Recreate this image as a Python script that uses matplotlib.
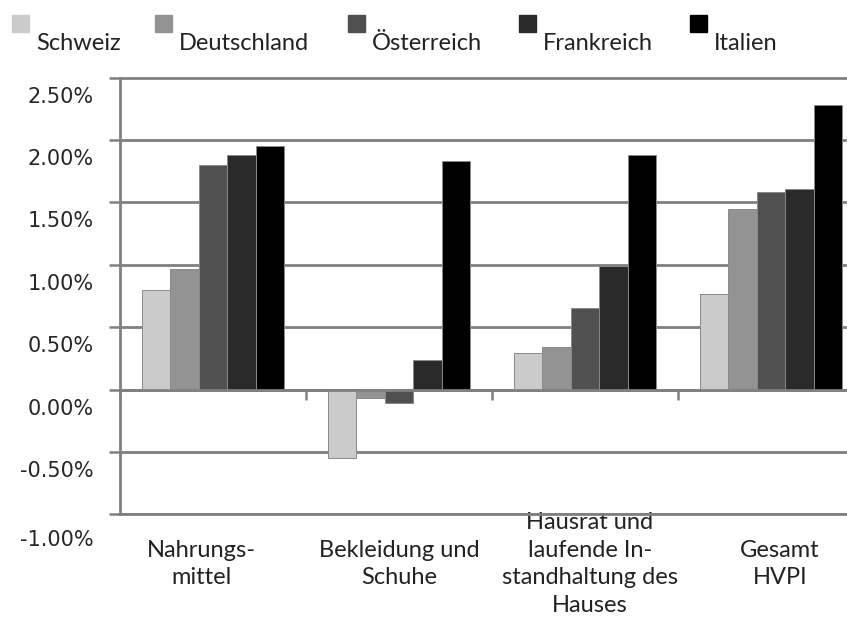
import matplotlib.pyplot as plt
import numpy as np
from matplotlib.patches import Rectangle
from matplotlib.transforms import ScaledTranslation

# Teuerung nach Warengruppe, Veränderung in %
laender = ['Schweiz', 'Deutschland', 'Österreich', 'Frankreich', 'Italien']
kategorien = ['Nahrungs-\nmittel', 'Bekleidung und\nSchuhe',
              'Hausrat und\nlaufende In-\nstandhaltung des\nHauses', 'Gesamt\nHVPI']
schweiz = [0.80, -0.55, 0.29, 0.77]
deutschland = [0.97, -0.07, 0.34, 1.45]
oesterreich = [1.80, -0.11, 0.65, 1.58]
frankreich = [1.88, 0.24, 0.99, 1.61]
italien = [1.95, 1.83, 1.88, 2.28]
werte = [schweiz, deutschland, oesterreich, frankreich, italien]
yticks = [-1.0, -0.5, 0.0, 0.5, 1.0, 1.5, 2.0, 2.5]

farben = ['#cbcbcb', '#939393', '#505050', '#2a2a2a', '#000000']
grau = '#808080'

fig = plt.figure(figsize=(8.47, 6.26), dpi=100)
W, H = 847, 626
# Zeichenfläche ragt rechts etwas über den Rand hinaus
ax = fig.add_axes([120 / W, (H - 515) / H, 744 / W, 438 / H])

x = np.arange(len(kategorien))
bw = 0.153
for i, (land, vals) in enumerate(zip(laender, werte)):
    ax.bar(x + 0.5 + (i - 2) * bw, vals, width=bw, color=farben[i],
           edgecolor='#8a8a8a', linewidth=0.7, zorder=2)

ax.set_xlim(0, len(kategorien))
ax.set_ylim(-1.006, 2.506)
ax.set_yticks(yticks)
ax.yaxis.grid(True, color=grau, linewidth=2)
ax.set_axisbelow(True)
# untere Begrenzungslinie bei -1 %
ax.axhline(yticks[0], color=grau, linewidth=2, clip_on=False, zorder=5)

for s in ['top', 'right']:
    ax.spines[s].set_visible(False)
ax.spines['left'].set_color(grau)
ax.spines['left'].set_linewidth(2)
ax.spines['left'].set_bounds(-1, 2.5)
ax.spines['bottom'].set_position(('data', 0))
ax.spines['bottom'].set_color(grau)
ax.spines['bottom'].set_linewidth(2)
ax.spines['bottom'].set_zorder(3)

ax.set_xticks(np.arange(len(kategorien) + 1))
ax.tick_params(axis='x', direction='out', length=7, width=1.8, color=grau,
               labelbottom=False)
ax.tick_params(axis='y', direction='out', length=8, width=1.8, color=grau,
               labelleft=False)

# y-Beschriftung, etwas unterhalb der Gitterlinien
ytrans = ax.get_yaxis_transform()
for k, v in enumerate(yticks):
    dy = 26 if k == 0 else 19
    t = ytrans + ScaledTranslation(-26 / 100, -dy / 100, fig.dpi_scale_trans)
    ax.text(0, v, f'{v:.2f}%', transform=t, ha='right', va='center',
            fontsize=15, color='#262626', family='DejaVu Sans')

# Kategorien unterhalb der Zeichenfläche
xtrans = ax.get_xaxis_transform()
dx = [-12, 0, 5, 9]
for k, lab in enumerate(kategorien):
    t = xtrans + ScaledTranslation(dx[k] / 100, -49 / 100, fig.dpi_scale_trans)
    ax.text(k + 0.5, 0, lab, transform=t, ha='center', va='center',
            fontsize=17, color='#222222', family='Lato', linespacing=1.4)

# Legende oben
lx = [12, 155, 348, 519, 690]
for k, land in enumerate(laender):
    fig.add_artist(Rectangle((lx[k] / W, 1 - 32 / H), 17 / W, 17 / H,
                             transform=fig.transFigure, color=farben[k]))
    fig.text((lx[k] + 24) / W, 1 - 50 / H, land, fontsize=17, color='#222222',
             family='Lato', ha='left', va='baseline')

fig.savefig('out.png', dpi=100)
